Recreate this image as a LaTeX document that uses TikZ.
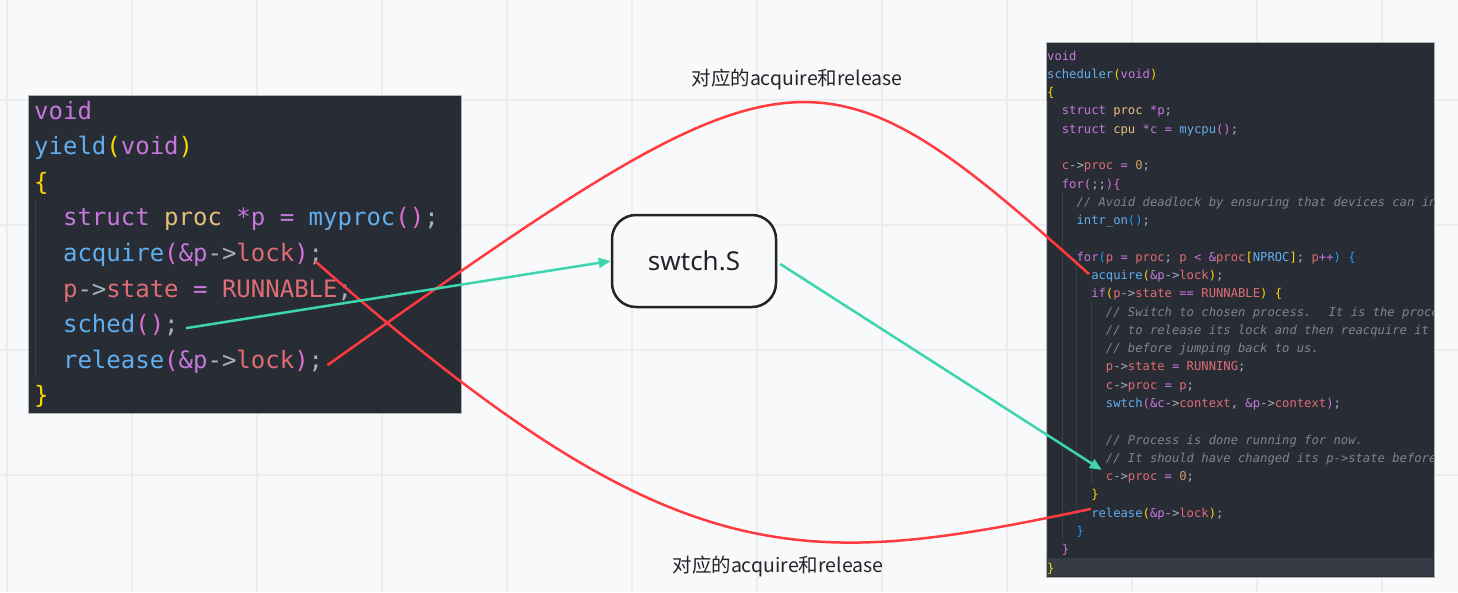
\documentclass[tikz,border=0pt]{standalone}
\usepackage{fontspec}
\setmainfont{Noto Sans}
\newfontfamily\cjk{Noto Sans CJK SC}
\newfontfamily\codefont{DejaVu Sans Mono}
\usetikzlibrary{arrows.meta}

\definecolor{paper}{HTML}{F8F9FA}
\definecolor{gridgrey}{HTML}{ECEDEF}
\definecolor{codebg}{HTML}{282C34}
\definecolor{codefg}{HTML}{ABB2BF}
\definecolor{curline}{HTML}{363B45}
\definecolor{guidegrey}{HTML}{3B4048}
\definecolor{kwpurple}{HTML}{C678DD}
\definecolor{fnblue}{HTML}{61AFEF}
\definecolor{tygold}{HTML}{E5C07B}
\definecolor{vrred}{HTML}{E06C75}
\definecolor{numorange}{HTML}{D19A66}
\definecolor{comgrey}{HTML}{7F848E}
\definecolor{bkgold}{HTML}{FFD700}
\definecolor{bkorchid}{HTML}{DA70D6}
\definecolor{bkblue}{HTML}{179FFF}
\definecolor{linkred}{HTML}{FF3B40}
\definecolor{linkgreen}{HTML}{3DD5AE}
\definecolor{boxline}{HTML}{222428}

\newcommand\ckw[1]{\textcolor{kwpurple}{#1}}
\newcommand\cfn[1]{\textcolor{fnblue}{#1}}
\newcommand\cty[1]{\textcolor{tygold}{#1}}
\newcommand\cvr[1]{\textcolor{vrred}{#1}}
\newcommand\cnum[1]{\textcolor{numorange}{#1}}
\newcommand\ccom[1]{{\itshape\color{comgrey}#1}}
\newcommand\bka[1]{\textcolor{bkgold}{#1}}
\newcommand\bkb[1]{\textcolor{bkorchid}{#1}}
\newcommand\bkc[1]{\textcolor{bkblue}{#1}}

\begin{document}
\begin{tikzpicture}[x=1pt,y=-1pt,
    gridline/.style={gridgrey,line width=1.5pt},
    codebox/.style={fill=codebg,draw=gray!60,line width=1pt},
    guide/.style={guidegrey,line width=1pt},
    codeL/.style={anchor=base west,inner sep=0pt,text=codefg,font=\codefont\fontsize{24}{28}\selectfont},
    codeR/.style={anchor=base west,inner sep=0pt,text=codefg,font=\codefont\fontsize{12.2}{14}\selectfont},
    swbox/.style={draw=boxline,line width=2.5pt,rounded corners=24pt,fill=paper,
      minimum width=164pt,minimum height=92pt,font=\fontsize{26}{30}\selectfont,text=boxline},
    lbl/.style={font=\cjk\fontsize{19.5}{24}\selectfont,text=boxline},
    redlink/.style={linkred,line width=2.5pt},
    greenlink/.style={linkgreen,line width=2.5pt,-{Triangle[length=12pt,width=10pt]}}]

  \useasboundingbox (0,0) rectangle (1458,592);
  \fill[paper] (0,0) rectangle (1458,592);
  \foreach \gx in {7,132,...,1382}
    \draw[gridline] (\gx,0) -- (\gx,592);
  \foreach \gy in {100,225,350,475}
    \draw[gridline] (0,\gy) -- (1458,\gy);

  \draw[codebox] (28,95) rectangle (461,413);
  \draw[guide] (35,200) -- (35,378);
  \foreach \ind/\txt [count=\i] in {
      0/{\ckw{void}},
      0/{\cfn{yield}\bka{(}\ckw{void}\bka{)}},
      0/{\bka{\{}},
      2/{\ckw{struct} \cty{proc} \ckw{*p} \ckw{=} \cfn{myproc}\bkb{()};},
      2/{\cfn{acquire}\bkb{(}\ckw{\&p}->\cvr{lock}\bkb{)};},
      2/{\cvr{p}->\cvr{state} \ckw{=} \cvr{RUNNABLE};},
      2/{\cfn{sched}\bkb{()};},
      2/{\cfn{release}\bkb{(}\ckw{\&p}->\cvr{lock}\bkb{)};},
      0/{\bka{\}}}}
    \node[codeL] (L\i) at ({34+\ind*14.45},{83.4+35.6*\i}) {\txt};

  \draw[codebox] (1046,42) rectangle (1434,577);
  \fill[curline] (1047,558) rectangle (1433,576);
  \draw[guide] (1047.5,101) -- (1047.5,557);
  \draw[guide] (1062,192) -- (1062,539);
  \draw[guide] (1076.5,265) -- (1076.5,521);
  \draw[guide] (1091,302) -- (1091,484);
  \begin{scope}
    \clip (1046,42) rectangle (1434,577);
    \foreach \ind/\txt [count=\i] in {
        0/{\ckw{void}},
        0/{\cfn{scheduler}\bka{(}\ckw{void}\bka{)}},
        0/{\bka{\{}},
        2/{\ckw{struct} \cty{proc} \ckw{*p};},
        2/{\ckw{struct} \cty{cpu} \ckw{*c} \ckw{=} \cfn{mycpu}\bkb{()};},
        0/{},
        2/{\cvr{c}->\cvr{proc} \ckw{=} \cnum{0};},
        2/{\ckw{for}\bkb{(};;\bkb{)}\bkb{\{}},
        4/{\ccom{// Avoid deadlock by ensuring that devices can interrupt.}},
        4/{\cfn{intr\_on}\bkc{()};},
        0/{},
        4/{\ckw{for}\bkc{(}\cvr{p} \ckw{=} \cvr{proc}; \cvr{p} \ckw{<} \ckw{\&}\cvr{proc}\bka{[}\cfn{NPROC}\bka{]}; \cvr{p}\ckw{++}\bkc{)} \bkc{\{}},
        6/{\cfn{acquire}\bka{(}\ckw{\&p}->\cvr{lock}\bka{)};},
        6/{\ckw{if}\bka{(}\cvr{p}->\cvr{state} \ckw{==} \cvr{RUNNABLE}\bka{)} \bka{\{}},
        8/{\ccom{// Switch to chosen process.~ It is the process's job}},
        8/{\ccom{// to release its lock and then reacquire it}},
        8/{\ccom{// before jumping back to us.}},
        8/{\cvr{p}->\cvr{state} \ckw{=} \cvr{RUNNING};},
        8/{\cvr{c}->\cvr{proc} \ckw{=} \cvr{p};},
        8/{\cfn{swtch}\bkb{(}\ckw{\&c}->\cvr{context}, \ckw{\&p}->\cvr{context}\bkb{)};},
        0/{},
        8/{\ccom{// Process is done running for now.}},
        8/{\ccom{// It should have changed its p->state before coming back.}},
        8/{\cvr{c}->\cvr{proc} \ckw{=} \cnum{0};},
        6/{\bka{\}}},
        6/{\cfn{release}\bka{(}\ckw{\&p}->\cvr{lock}\bka{)};},
        4/{\bkc{\}}},
        2/{\bkb{\}}},
        0/{\bka{\}}}}
      \node[codeR] (R\i) at ({1047+\ind*7.34},{41.71+18.29*\i}) {\txt};
  \end{scope}

  \node[swbox] (sw) at (694,261) {swtch.S};
  \node[lbl] (topLbl) at (797,79) {对应的acquire和release};
  \node[lbl] (botLbl) at (778,566) {对应的acquire和release};

  \coordinate (acqL) at ([shift={(-8,0)}]L5.base east);
  \coordinate (relL) at ([shift={(4,-3)}]L8.base east);
  \coordinate (schedL) at ([shift={(7,3)}]L7.east);
  \coordinate (acqR) at ([shift={(-2,-2)}]R13.west);
  \coordinate (relR) at ([shift={(0,-5)}]R26.west);
  \coordinate (procR) at ([shift={(-4,-7.5)}]R24.west);

  \draw[redlink] (relL) .. controls +(465,-330) and +(-275,-246) .. (acqR);
  \draw[redlink] (acqL) .. controls +(359,316) and +(-293,62) .. (relR);
  \draw[greenlink] (schedL) -- (sw.west);
  \draw[greenlink] ([shift={(3,3)}]sw.east) -- (procR);

\end{tikzpicture}
\end{document}
